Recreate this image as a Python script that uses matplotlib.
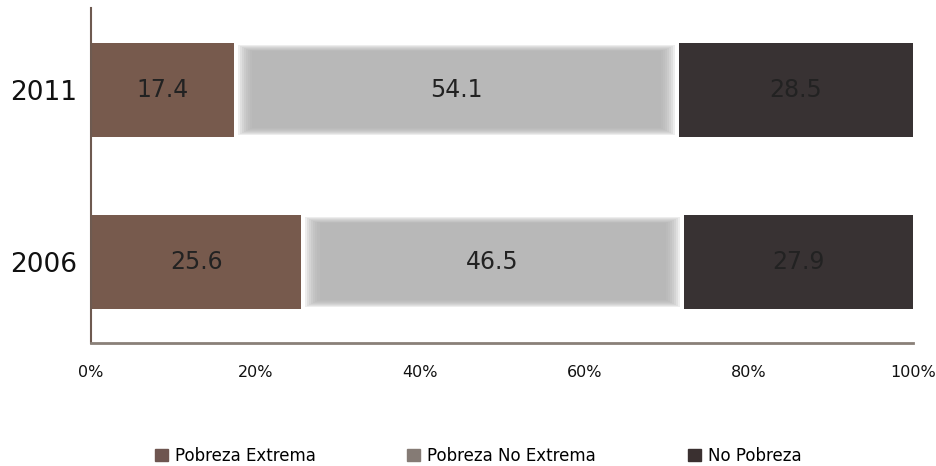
import matplotlib
matplotlib.use("Agg")
import matplotlib.pyplot as plt
import numpy as np

years = ["2006", "2011"]
extrema = [25.6, 17.4]
no_extrema = [46.5, 54.1]
no_pobreza = [27.9, 28.5]
series_names = ["Pobreza Extrema", "Pobreza No Extrema", "No Pobreza"]

bar_colors = ["#775a4d", "#aeaeae", "#383233"]
legend_colors = ["#6e5550", "#857b75", "#3a3030"]

plt.rcParams['font.family'] = ['DejaVu Sans']

fig = plt.figure(figsize=(9.37, 4.66), dpi=100)
ax = fig.add_axes([0.0971, 0.264, 0.8773, 0.719])

y = np.arange(len(years))
h = 0.547
left = np.zeros(len(years))
for vals, col in zip([extrema, no_extrema, no_pobreza], bar_colors):
    vals = np.array(vals)
    if col == "#aeaeae":
        # blurred middle segment: stacked translucent layers
        for k in range(8):
            pad = 2.2 - k * 0.25
            ax.barh(y, vals - 2 * pad, left=left + pad, height=h - 0.045 * pad,
                    color=col, alpha=0.22, linewidth=0)
    else:
        ax.barh(y, vals, left=left, height=h, color=col, linewidth=0)
    for yi, l, v in zip(y, left, vals):
        ax.text(l + v / 2, yi, f"{v:.1f}", ha='center', va='center',
                fontsize=17, color="#222222")
    left = left + vals

ax.set_xlim(0, 100)
ax.set_ylim(-0.471, 1.477)
ax.set_yticks(y)
ax.set_yticklabels(years, fontsize=19, color="#111111")
ax.set_xticks(np.arange(0, 101, 20))
ax.set_xticklabels([f"{t}%" for t in range(0, 101, 20)], fontsize=11.5, color="#111111")
ax.tick_params(axis='both', length=0)
ax.tick_params(axis='x', pad=16)
ax.tick_params(axis='y', pad=10)

for s in ['top', 'right']:
    ax.spines[s].set_visible(False)
ax.spines['left'].set_color("#6e5a50")
ax.spines['left'].set_linewidth(1.5)
ax.spines['bottom'].set_color("#8a8078")
ax.spines['bottom'].set_linewidth(2)

handles = [plt.Rectangle((0, 0), 1, 1, color=c) for c in legend_colors]
fig.legend(handles, series_names, loc='center', bbox_to_anchor=(0.51, 0.022),
           ncol=3, frameon=False, fontsize=12, handlelength=0.8, handleheight=0.8,
           handletextpad=0.4, columnspacing=5.5, borderpad=0)

fig.savefig("out.png", dpi=100)
